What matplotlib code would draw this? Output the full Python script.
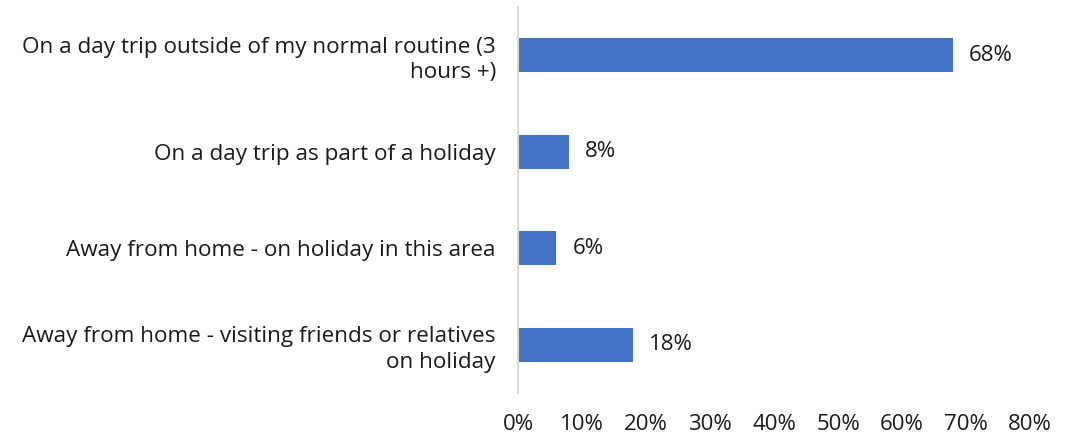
import matplotlib.pyplot as plt
import matplotlib.ticker as ticker

# categories top to bottom
categories = [
    "On a day trip outside of my normal routine (3\nhours +)",
    "On a day trip as part of a holiday",
    "Away from home - on holiday in this area",
    "Away from home - visiting friends or relatives\non holiday",
]
values = [68, 8, 6, 18]
xticks = [0, 10, 20, 30, 40, 50, 60, 70, 80]

plt.rcParams['font.family'] = ['Open Sans', 'DejaVu Sans']

fig = plt.figure(figsize=(10.74, 4.36), dpi=100)
ax = fig.add_axes([518 / 1074, 1 - 393 / 436, 512 / 1074, 386 / 436])

ypos = list(range(len(categories)))
bars = ax.barh(ypos, values, height=0.35, color='#4472C4')

ax.set_ylim(len(categories) - 0.5, -0.5)
ax.set_xlim(0, 80)
ax.set_yticks(ypos)
ax.set_yticklabels(categories, fontsize=16.2, color='#1a1a1a', linespacing=1.28)
ax.set_xticks(xticks)
ax.xaxis.set_major_formatter(ticker.FuncFormatter(lambda v, p: f'{v:.0f}%'))
ax.tick_params(axis='x', length=0, pad=15, labelsize=16, labelcolor='#1a1a1a')
ax.tick_params(axis='y', length=0, pad=16)

for s in ['top', 'right', 'bottom']:
    ax.spines[s].set_visible(False)
ax.spines['left'].set_color('#d9d9d9')
ax.spines['left'].set_linewidth(1.5)

for b, v in zip(bars, values):
    ax.text(b.get_width() + 2.5, b.get_y() + b.get_height() / 2, f'{v}%',
            va='center', ha='left', fontsize=16, color='#1a1a1a')

fig.savefig('out.png', dpi=100)
